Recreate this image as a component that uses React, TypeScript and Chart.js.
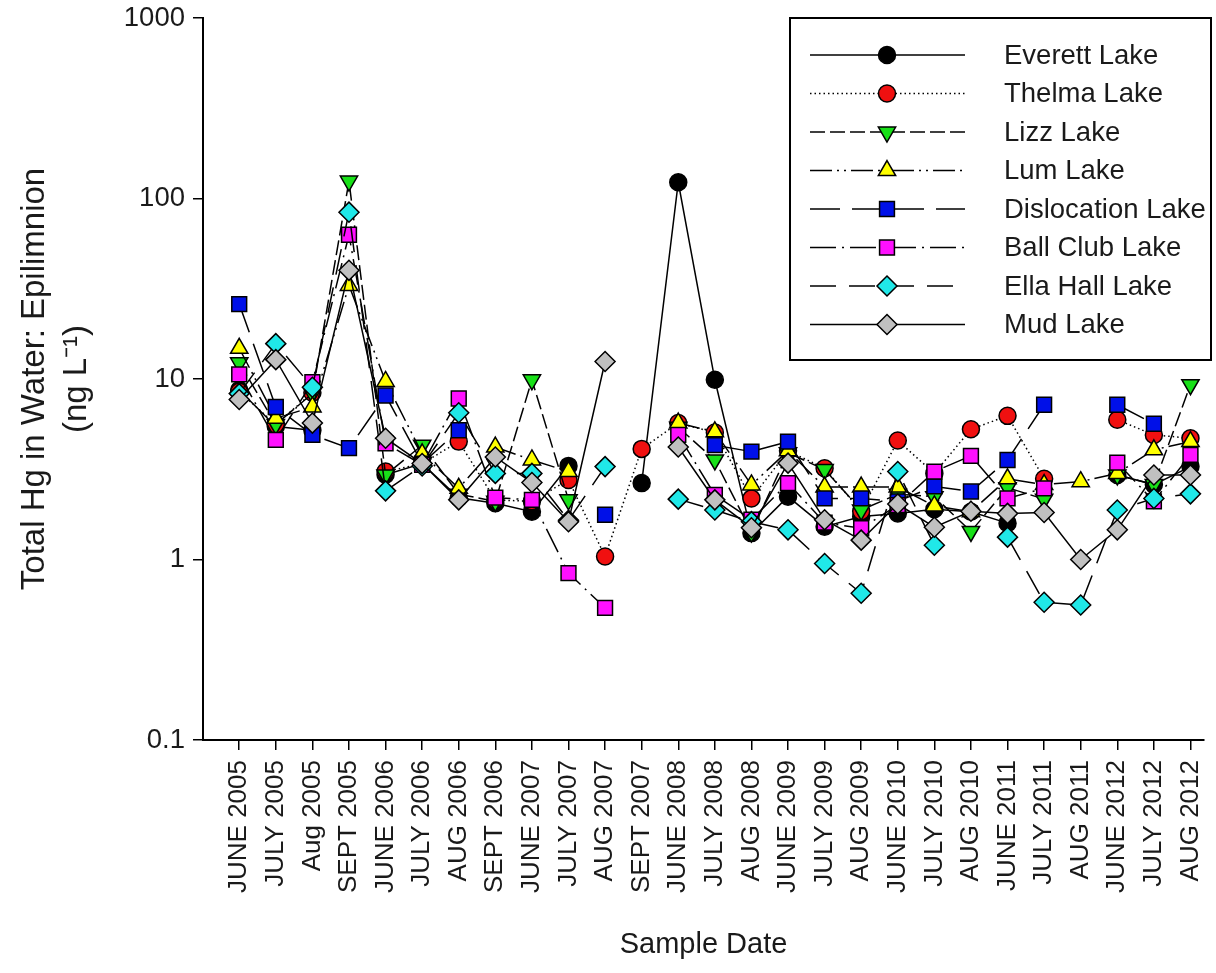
import React, { useEffect, useRef } from 'react';
import { Chart, registerables } from 'chart.js';

Chart.register(...registerables);

// ---------- data ----------
const dateLabels = [
  'JUNE 2005', 'JULY 2005', 'Aug 2005', 'SEPT 2005', 'JUNE 2006', 'JULY 2006', 'AUG 2006',
  'SEPT 2006', 'JUNE 2007', 'JULY 2007', 'AUG 2007', 'SEPT 2007', 'JUNE 2008', 'JULY 2008',
  'AUG 2008', 'JUNE 2009', 'JULY 2009', 'AUG 2009', 'JUNE 2010', 'JULY 2010', 'AUG 2010',
  'JUNE 2011', 'JULY 2011', 'AUG 2011', 'JUNE 2012', 'JULY 2012', 'AUG 2012',
];

const everettLake = [8.7, 5.45, 5.2, null, 2.95, 3.4, 2.2, 2.05, 1.84, 3.3, null, 2.65, 123, 9.9, 1.4, 2.23, 1.52, 1.73, 1.8, 1.9, 1.84, 1.59, null, null, 2.94, 2.6, 3.27];
const thelmaLake = [8.5, 5.6, 8.4, null, 3.07, 3.4, 4.5, 2.14, 2.1, 2.76, 1.04, 4.1, 5.7, 5.05, 2.18, 4.0, 3.2, 1.85, 4.56, 3.0, 5.27, 6.25, 2.8, null, 5.95, 4.9, 4.7];
const lizzLake = [12.3, 5.6, 8.3, 125, 2.94, 4.3, 2.3, 2.1, 9.9, 2.14, null, null, 5.4, 3.56, 1.42, 3.9, 3.15, 1.88, 2.3, 2.23, 1.43, 2.5, 2.16, null, 2.94, 2.6, 9.3];
const lumLake = [14.8, 6.06, 7.0, 33, 9.7, 3.85, 2.48, 4.2, 3.56, 3.07, null, null, 5.7, 5.1, 2.59, 4.0, 2.52, 2.52, 2.52, 1.98, 1.84, 2.8, 2.6, 2.7, 3.0, 4.05, 4.5];
const dislocationLake = [26, 7.0, 4.9, 4.14, 8.1, 3.4, 5.2, null, null, null, 1.77, null, null, 4.3, 3.96, 4.5, 2.18, 2.18, 2.1, 2.54, 2.38, 3.56, 7.2, null, 7.2, 5.65, null];
const ballClubLake = [10.6, 4.6, 9.6, 63, 4.4, 3.35, 7.8, 2.2, 2.14, 0.84, 0.54, null, 4.9, 2.28, 1.66, 2.65, 1.6, 1.49, 2.0, 3.07, 3.75, 2.18, 2.48, null, 3.44, 2.1, 3.8];
const ellaHallLake = [8.3, 15.7, 9.0, 84, 2.4, 3.3, 6.5, 3.0, 3.0, 1.65, 3.27, null, 2.16, 1.88, 1.62, 1.46, 0.95, 0.65, 3.07, 1.2, null, 1.33, 0.58, 0.56, 1.88, 2.18, 2.31];
const mudLake = [7.7, 12.8, 5.7, 40, 4.7, 3.4, 2.14, 3.7, 2.67, 1.62, 12.5, null, 4.2, 2.14, 1.5, 3.42, 1.66, 1.28, 2.03, 1.51, 1.85, 1.8, 1.82, 1.0, 1.46, 2.94, 2.94];

const seriesNames = ['Everett Lake', 'Thelma Lake', 'Lizz Lake', 'Lum Lake', 'Dislocation Lake', 'Ball Club Lake', 'Ella Hall Lake', 'Mud Lake'];
const seriesValues = [everettLake, thelmaLake, lizzLake, lumLake, dislocationLake, ballClubLake, ellaHallLake, mudLake];

const yTicks = [0.1, 1, 10, 100, 1000];
const yTickLabels = ['0.1', '1', '10', '100', '1000'];

// ---------- styles ----------
const seriesColors = ['#000000', '#f01010', '#18e018', '#ffff00', '#0010e8', '#ff10ff', '#20e8e8', '#c0c0c0'];
const seriesDashes: number[][] = [[], [1.5, 3], [15, 5], [22, 5, 2, 5, 2, 5], [30, 12], [26, 6, 2, 6], [26, 13], []];
const seriesPointStyles = ['circle', 'circle', 'triangle', 'triangle', 'rect', 'rect', 'rectRot', 'rectRot'];
const seriesPointRotation = [0, 0, 180, 0, 0, 0, 0, 0];
const seriesPointRadius = [8.5, 8.5, 10, 10, 10.5, 10.5, 10, 10];

const FONT = '"Liberation Sans", Arial, Helvetica, sans-serif';

function drawMarker(ctx: CanvasRenderingContext2D, style: string, x: number, y: number, r: number, rotDeg: number, fill: string) {
  ctx.save();
  ctx.beginPath();
  let rad = (rotDeg * Math.PI) / 180;
  if (style === 'circle') {
    ctx.arc(x, y, r, 0, Math.PI * 2);
  } else if (style === 'triangle') {
    const t = (2 * Math.PI) / 3;
    ctx.moveTo(x + Math.sin(rad) * r, y - Math.cos(rad) * r);
    rad += t;
    ctx.lineTo(x + Math.sin(rad) * r, y - Math.cos(rad) * r);
    rad += t;
    ctx.lineTo(x + Math.sin(rad) * r, y - Math.cos(rad) * r);
    ctx.closePath();
  } else if (style === 'rect') {
    const s = Math.SQRT1_2 * r;
    ctx.rect(x - s, y - s, 2 * s, 2 * s);
  } else {
    ctx.moveTo(x, y - r);
    ctx.lineTo(x + r, y);
    ctx.lineTo(x, y + r);
    ctx.lineTo(x - r, y);
    ctx.closePath();
  }
  ctx.fillStyle = fill;
  ctx.fill();
  ctx.lineWidth = 1.5;
  ctx.strokeStyle = '#000';
  ctx.stroke();
  ctx.restore();
}

const boxLegend = {
  id: 'boxLegend',
  afterDraw(chart: any) {
    const ctx: CanvasRenderingContext2D = chart.ctx;
    ctx.save();
    ctx.fillStyle = '#fff';
    ctx.fillRect(790, 18, 421, 342);
    ctx.lineWidth = 2;
    ctx.strokeStyle = '#000';
    ctx.strokeRect(790, 18, 421, 342);
    chart.data.datasets.forEach((ds: any, i: number) => {
      const y = 55 + i * 38.5;
      ctx.setLineDash(ds.borderDash || []);
      ctx.lineWidth = 1.5;
      ctx.strokeStyle = '#000';
      ctx.beginPath();
      ctx.moveTo(810, y);
      ctx.lineTo(965, y);
      ctx.stroke();
      ctx.setLineDash([]);
      drawMarker(ctx, ds.pointStyle, 887, y, ds.pointRadius, ds.pointRotation || 0, ds.pointBackgroundColor);
      ctx.fillStyle = '#1a1a1a';
      ctx.font = `27.5px ${FONT}`;
      ctx.textBaseline = 'middle';
      ctx.textAlign = 'left';
      ctx.fillText(ds.label, 1004, y + 1);
    });
    ctx.restore();
  },
};

export default function App() {
  const canvasRef = useRef<HTMLCanvasElement | null>(null);

  useEffect(() => {
    if (!canvasRef.current) return;
    const datasets = seriesNames.map((name, i) => ({
      label: name,
      data: seriesValues[i].map((v, j) => ({ x: j, y: v })),
      borderColor: '#000',
      borderWidth: 1.5,
      borderDash: seriesDashes[i],
      pointStyle: seriesPointStyles[i],
      pointRotation: seriesPointRotation[i],
      pointRadius: seriesPointRadius[i],
      pointHoverRadius: seriesPointRadius[i],
      pointBackgroundColor: seriesColors[i],
      pointBorderColor: '#000',
      pointBorderWidth: 1.5,
      backgroundColor: seriesColors[i],
      fill: false,
      tension: 0,
      spanGaps: false,
      order: seriesNames.length - 1 - i,
    }));

    const chart = new Chart(canvasRef.current, {
      type: 'line',
      data: { datasets },
      plugins: [boxLegend],
      options: {
        animation: false,
        responsive: false,
        maintainAspectRatio: false,
        layout: { padding: { top: 18, right: 9, left: 0, bottom: 0 } },
        plugins: {
          legend: { display: false },
          tooltip: { enabled: false },
        },
        scales: {
          x: {
            type: 'linear',
            min: -0.99,
            max: 26.37,
            afterBuildTicks: (scale: any) => {
              scale.ticks = dateLabels.map((_, i) => ({ value: i }));
            },
            afterFit: (scale: any) => {
              scale.height = 233;
              scale.paddingLeft = 0;
              scale.paddingRight = 0;
            },
            ticks: {
              autoSkip: false,
              maxRotation: 90,
              minRotation: 90,
              padding: 10,
              color: '#1a1a1a',
              font: { family: FONT, size: 26 },
              callback: (v: any) => dateLabels[v] ?? '',
            },
            grid: {
              display: true,
              drawOnChartArea: false,
              drawTicks: true,
              tickLength: 10,
              color: '#000',
              lineWidth: 1.5,
            },
            border: { display: true, color: '#000', width: 2 },
            title: {
              display: true,
              text: 'Sample Date',
              color: '#1a1a1a',
              font: { family: FONT, size: 29 },
              padding: { top: 0, bottom: 11 },
            },
          },
          y: {
            type: 'logarithmic',
            min: 0.1,
            max: 1000,
            afterBuildTicks: (scale: any) => {
              scale.ticks = yTicks.map((v) => ({ value: v }));
            },
            afterFit: (scale: any) => {
              scale.width = 203;
              scale.paddingTop = 0;
              scale.paddingBottom = 0;
            },
            ticks: {
              padding: 8,
              color: '#1a1a1a',
              font: { family: FONT, size: 27.5 },
              callback: (v: any) => {
                const k = yTicks.findIndex((t) => Math.abs(t - v) < 1e-9);
                return k >= 0 ? yTickLabels[k] : '';
              },
            },
            grid: {
              display: true,
              drawOnChartArea: false,
              drawTicks: true,
              tickLength: 10,
              color: '#000',
              lineWidth: 1.5,
            },
            border: { display: true, color: '#000', width: 2 },
            title: {
              display: true,
              text: ['Total Hg in Water: Epilimnion', '(ng L\u207B\u00B9)'],
              color: '#1a1a1a',
              font: { family: FONT, size: 33, lineHeight: 1.27 },
              padding: { top: 14, bottom: 0 },
            },
          },
        },
      } as any,
    });
    return () => chart.destroy();
  }, []);

  return (
    <div style={{ position: 'fixed', left: 0, top: 0, width: 1216, height: 973, background: '#fff' }}>
      <canvas ref={canvasRef} width={1216} height={973} style={{ display: 'block' }} />
    </div>
  );
}
